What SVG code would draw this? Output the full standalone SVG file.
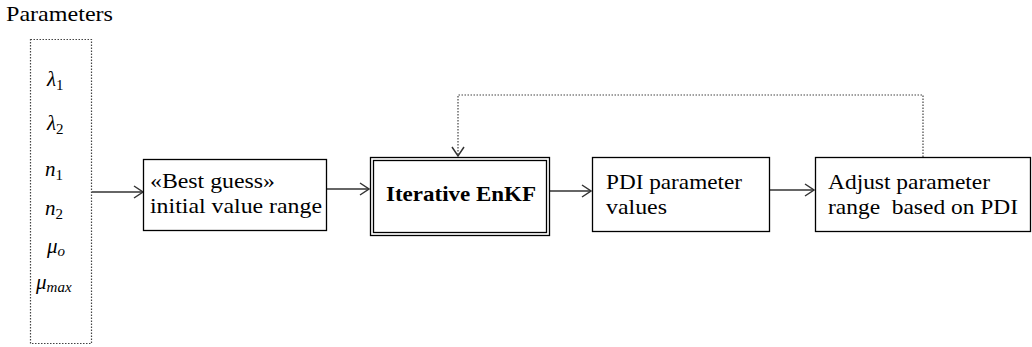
<svg xmlns="http://www.w3.org/2000/svg" width="1032" height="347" viewBox="0 0 1032 347">
<style>
.t{font-family:"Liberation Serif","Times New Roman","DejaVu Serif",serif;font-size:22px;fill:#000}
.m{font-family:"Liberation Serif","Times New Roman","DejaVu Serif",serif;font-style:italic;font-size:21px;fill:#000}
.s{font-size:15px;font-style:normal}
.b{fill:#fff;stroke:#000;stroke-width:1.3}
.c{fill:none;stroke:#333;stroke-width:1.5}
.d{fill:none;stroke:#444;stroke-width:1.2;stroke-dasharray:1.5 1.5}
</style>
<defs>
<marker id="a" markerWidth="12" markerHeight="14" refX="10" refY="7" orient="auto" markerUnits="userSpaceOnUse">
<path d="M1,1 L10,7 L1,13" fill="none" stroke="#333" stroke-width="1.5"/>
</marker>
</defs>
<text class="t" x="6" y="21" textLength="107" lengthAdjust="spacingAndGlyphs">Parameters</text>
<g id="params">
<rect x="30.5" y="39.5" width="61" height="304" class="d"/>
<text class="m" x="47" y="86">λ<tspan class="s" dy="4">1</tspan></text>
<text class="m" x="47" y="130">λ<tspan class="s" dy="4">2</tspan></text>
<text class="m" x="45" y="176">n<tspan class="s" dy="4">1</tspan></text>
<text class="m" x="45" y="215">n<tspan class="s" dy="4">2</tspan></text>
<text class="m" x="47" y="253">μ<tspan dy="3" font-size="15">o</tspan></text>
<text class="m" x="36" y="289">μ<tspan dy="3" font-size="15">max</tspan></text>
</g>
<g id="connectors">
<line x1="92" y1="192" x2="143" y2="192" class="c" marker-end="url(#a)"/>
<line x1="327" y1="189" x2="369" y2="189" class="c" marker-end="url(#a)"/>
<line x1="550" y1="191" x2="591" y2="191" class="c" marker-end="url(#a)"/>
<line x1="770" y1="190" x2="814" y2="190" class="c" marker-end="url(#a)"/>
<path d="M923,157 V95 H458 V156" class="d" marker-end="url(#a)"/>
</g>
<g id="guess">
<rect x="143.5" y="159.5" width="183" height="71" class="b"/>
<text class="t" x="150" y="188" textLength="125" lengthAdjust="spacingAndGlyphs">«Best guess»</text>
<text class="t" x="150" y="213" textLength="172" lengthAdjust="spacingAndGlyphs">initial value range</text>
</g>
<g id="enkf">
<rect x="370.5" y="157.5" width="179" height="78" class="b"/>
<rect x="373.5" y="160.5" width="173" height="72" fill="none" stroke="#000" stroke-width="1.3"/>
<text class="t" x="386" y="201" font-weight="bold" textLength="150" lengthAdjust="spacingAndGlyphs">Iterative EnKF</text>
</g>
<g id="pdi">
<rect x="592.5" y="157.5" width="177" height="74" class="b"/>
<text class="t" x="606" y="189" textLength="136" lengthAdjust="spacingAndGlyphs">PDI parameter</text>
<text class="t" x="606" y="214" textLength="61" lengthAdjust="spacingAndGlyphs">values</text>
</g>
<g id="adjust">
<rect x="815.5" y="157.5" width="215" height="74" class="b"/>
<text class="t" x="828" y="189" textLength="162" lengthAdjust="spacingAndGlyphs">Adjust parameter</text>
<text class="t" x="828" y="214" textLength="190" lengthAdjust="spacingAndGlyphs" xml:space="preserve">range  based on PDI</text>
</g>
</svg>
